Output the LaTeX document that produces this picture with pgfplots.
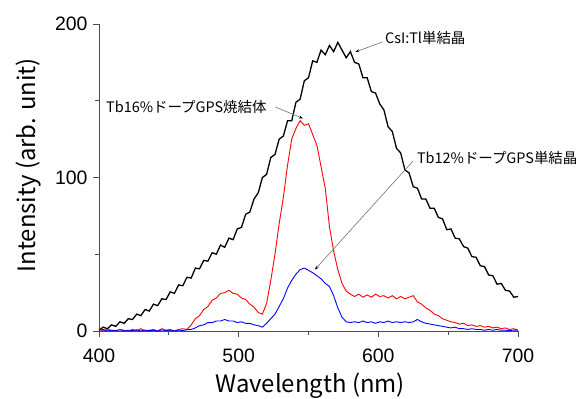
\documentclass[border=0pt]{standalone}
\usepackage{fontspec}
\setmainfont{Liberation Sans}
\newfontfamily\cjk{Noto Sans CJK JP}
\usepackage{pgfplots}
\pgfplotsset{compat=1.18}
\usetikzlibrary{arrows.meta}

\pgfplotstableread{
x y
400 0.5
403 2.5
406 1.5
409 4
412 3
415 6
418 5
421 8
424 7.5
427 11
430 10
433 14
436 13
439 17.5
442 16.5
445 21
448 20.5
451 25.5
454 24.5
457 30
460 29.5
463 35
466 34.5
469 41
472 40.5
475 46
478 45.5
481 51
484 50
487 56
490 54.5
493 60.5
496 59.5
499 66.5
502 67.5
505 76
508 77.5
511 86
514 90
517 100
520 102
523 113
526 115
529 125
532 127
535 137
538 137
541 149
544 151
547 163
550 165
553 176
556 175
559 183
562 180
565 186
568 182
571 188
574 183
577 178
580 182
583 175
586 174
589 165
592 165
595 156
598 155
601 148
604 144
607 133
610 130
613 119
616 116
619 105
622 103
625 94
628 93
631 86
634 86
637 80
640 80
643 74
646 73
649 66
652 66.5
655 60.5
658 60
661 55
664 54
667 48.5
670 48
673 42.5
676 42
679 36.5
682 36
685 30.5
688 31
691 26.5
694 26
697 22
700 22.5
}\csi

\pgfplotstableread{
x y
400 1.5
403 0
406 1
409 0.5
412 0
415 1
418 0.5
421 0
424 1
427 0.3
430 1.5
433 0
436 0.5
439 1
442 0
445 1.5
448 0.5
451 1
454 0
457 1
460 1.5
463 1
466 4
469 8
472 10
475 14
478 16
481 20
484 21.5
487 24.5
490 25
493 26.5
496 24.5
499 24
502 21.5
505 20.5
508 17.5
511 15.5
514 12
517 11
520 18
523 33
526 50
529 70
532 87
535 108
538 125
541 132
544 137
547 134
550 135
553 128
556 121
559 107
562 93
565 68
568 52
571 40
574 31
577 26
580 24
583 22.5
586 24
589 22
592 23.5
595 22
598 24
601 22.5
604 23
607 21.5
610 23
613 21
616 22.5
619 21
622 22
625 23
628 19
631 17.5
634 15
637 13.5
640 11
643 10
646 8
649 7
652 6
655 5.5
658 4.5
661 5
664 3.5
667 4
670 3
673 3.5
676 2.5
679 3
682 2
685 2.5
688 1.5
691 2
694 1
697 1.5
700 0.5
}\tbsix

\pgfplotstableread{
x y
400 0.5
403 1
406 0
409 0.5
412 0.3
415 0.8
418 0
421 0.5
424 0.2
427 0.8
430 0
433 0.6
436 0.2
439 0.5
442 0
445 0.7
448 0.3
451 0.5
454 0
457 0.6
460 0.3
463 0.8
466 1
469 2
472 3.5
475 4
478 5.5
481 5.5
484 6.5
487 6.5
490 7.5
493 6.5
496 6.5
499 5.5
502 6
505 5
508 5
511 4
514 3.5
517 2.5
520 5
523 8
526 11
529 16
532 21
535 28
538 33
541 37
544 40
547 41
550 39.5
553 38
556 36
559 34
562 31
565 29
568 23
571 15
574 9
577 6
580 5.5
583 6
586 5.5
589 6.5
592 5.5
595 6
598 5
601 6
604 5.5
607 6.5
610 5.5
613 6
616 5.5
619 6
622 5.5
625 6
628 7.5
631 6
634 5
637 4.5
640 4
643 3.5
646 3
649 2.5
652 2
655 2.5
658 1.5
661 1.5
664 1
667 1.5
670 1
673 1
676 0.5
679 1
682 0.5
685 1
688 0.5
691 0.5
694 0.3
697 0.6
700 0.5
}\tbtwelve

\begin{document}
\begin{tikzpicture}
\path[use as bounding box] (0,0) rectangle (581bp,399bp);
\begin{axis}[
  at={(99bp,68bp)}, anchor=south west,
  scale only axis, width=419bp, height=307bp,
  xmin=400, xmax=700, ymin=0, ymax=200,
  axis x line*=bottom, axis y line*=left,
  axis line style={draw=black!70, line width=1pt},
  xtick={400,500,600,700}, minor xtick={450,550,650},
  ytick={0,100,200}, minor ytick={50,150},
  tick align=outside,
  major tick length=6bp, minor tick length=4bp,
  tick style={draw=black!70, line width=0.9pt},
  /pgf/number format/assume math mode=true,
  ticklabel style={font=\fontsize{19.5}{22}\selectfont},
  xticklabel style={yshift=-8bp},
  yticklabel style={xshift=-2bp},
  clip=false,
  xlabel={\cjk Wavelength (nm)},
  ylabel={\cjk Intensity (arb. unit)},
  label style={font=\fontsize{24}{28}\selectfont, inner sep=0pt},
  xlabel style={at={(axis description cs:0.504,-0.2)}, anchor=base},
  ylabel style={at={(axis description cs:-0.152,0.54)}, anchor=base},
]
\addplot[black, line width=1.3pt] table {\csi};
\addplot[red, line width=0.9pt] table {\tbsix};
\addplot[blue, line width=0.9pt] table {\tbtwelve};

\draw[black!55, line width=0.6pt, -{Stealth[black, length=4pt, width=3pt]}]
  (axis cs:603,188.3) -- (axis cs:583.5,181.8);
\draw[black!55, line width=0.6pt, -{Stealth[black, length=4pt, width=3pt]}]
  (axis cs:526,146) -- (axis cs:546,138.5);
\draw[black!55, line width=0.6pt, -{Stealth[black, length=4pt, width=3pt]}]
  (axis cs:624.8,110.7) -- (axis cs:554.6,40);

\node[anchor=west, inner sep=0pt, font=\cjk\fontsize{14.5}{17}\selectfont] at (axis cs:604.7,190.9) {CsI:Tl単結晶};
\node[anchor=west, inner sep=0pt, font=\cjk\fontsize{14.5}{17}\selectfont] at (axis cs:405,146) {Tb16\%ドープGPS焼結体};
\node[anchor=west, inner sep=0pt, font=\cjk\fontsize{14.5}{17}\selectfont] at (axis cs:627.6,112.7) {Tb12\%ドープGPS単結晶};
\end{axis}
\end{tikzpicture}
\end{document}
